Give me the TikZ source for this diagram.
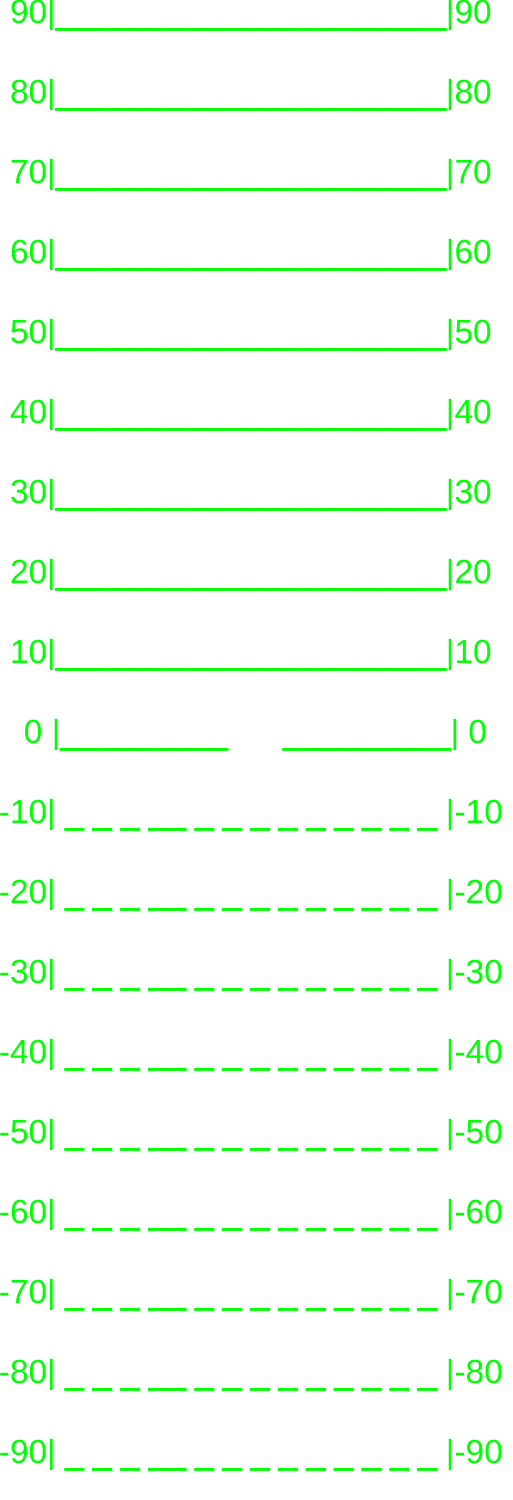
\documentclass[tikz,border=0pt]{standalone}
\usepackage{fontspec}
\newfontfamily\hudfont{Liberation Sans}
\newfontfamily\barfont{Liberation Sans}[FakeBold=2]
\usetikzlibrary{positioning}
\definecolor{hud}{HTML}{00FF00}
\newcommand\bars[1]{{\barfont#1}}
\newcommand\solidbar{\bars{\_\_\_\_\_\_\_\_\_\_\_\_\_\_\_\_\_\_\_\_\_}}
\newcommand\halfbar{\bars{\_\_\_\_\_\_\_\_\_}}
\newcommand\dashbar{\bars{\ \_\ \_\ \_\ \_\_\ \_\ \_\ \_\ \_\ \_\ \_\ \_\ \_\ \_\ }}
\tikzset{
  ladder/.style={text=hud,inner sep=0pt,anchor=base,
    font=\hudfont\fontsize{33.4}{33.4}\selectfont}
}
\begin{document}
\begin{tikzpicture}[x=1pt,y=1pt]
  \useasboundingbox (0,0) rectangle (512,1500);
  % climbing rungs
  \foreach \deg in {90,80,...,10}
    \node[ladder] (rung\deg) at (250.9,{1476-8*(90-\deg)}) {\deg|\solidbar|\deg};
  % horizon
  \node[ladder] (horizon) at (250.9,756) {\ 0\ |\halfbar\ \ \ \ \ \ \halfbar|\ 0};
  % diving rungs
  \foreach \deg in {-10,-20,...,-90}
    \node[ladder] (rung\deg) at (250.9,{1476-8*(90-\deg)}) {\deg|\dashbar|\deg};
\end{tikzpicture}
\end{document}
